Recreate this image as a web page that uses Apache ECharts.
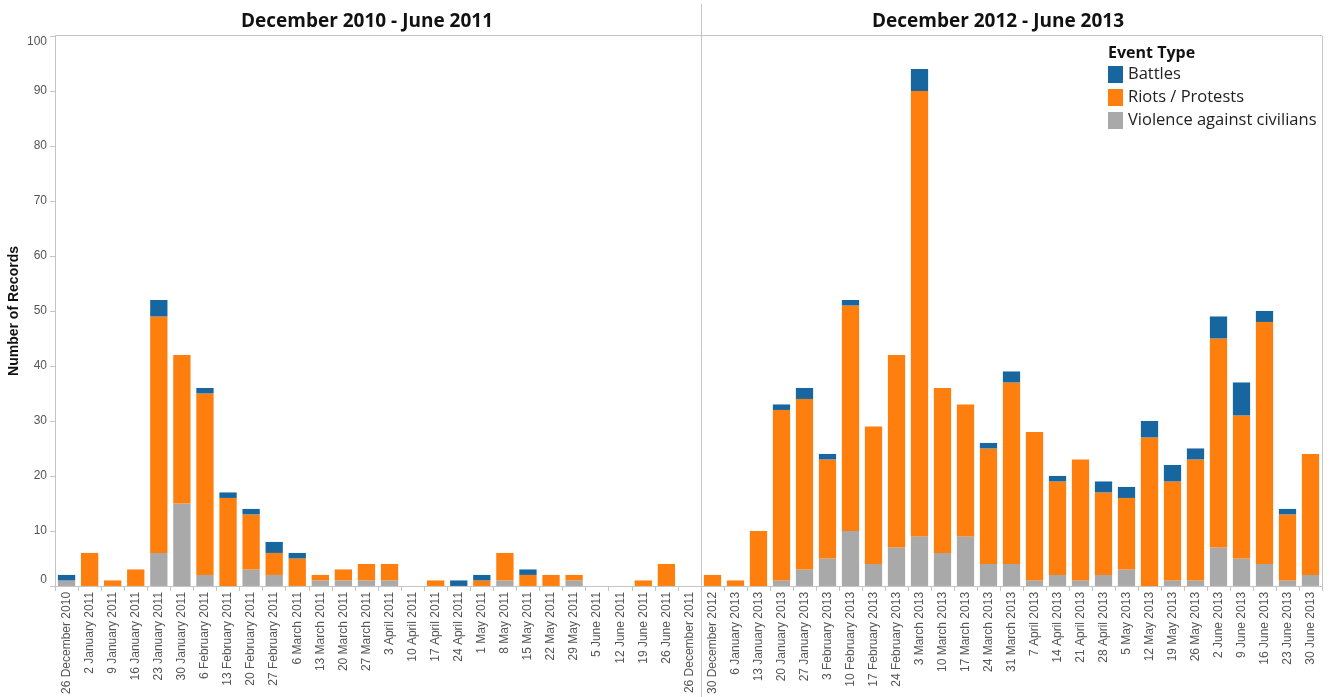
<!DOCTYPE html>
<html>
<head>
<meta charset="utf-8">
<script src="https://cdn.jsdelivr.net/npm/echarts@6/dist/echarts.min.js"></script>
<style>html,body{margin:0;padding:0;background:#fff}#c{width:1330px;height:697px}</style>
</head>
<body>
<div id="c"></div>
<script>
const datesLeft = ['26 December 2010','2 January 2011','9 January 2011','16 January 2011','23 January 2011','30 January 2011','6 February 2011','13 February 2011','20 February 2011','27 February 2011','6 March 2011','13 March 2011','20 March 2011','27 March 2011','3 April 2011','10 April 2011','17 April 2011','24 April 2011','1 May 2011','8 May 2011','15 May 2011','22 May 2011','29 May 2011','5 June 2011','12 June 2011','19 June 2011','26 June 2011','26 December 2011'];
const violenceLeft = [1,0,0,0,6,15,2,0,3,2,0,1,1,1,1,0,0,0,0,1,0,0,1,0,0,0,0,0];
const riotsLeft    = [0,6,1,3,43,27,33,16,10,4,5,1,2,3,3,0,1,0,1,5,2,2,1,0,0,1,4,0];
const battlesLeft  = [1,0,0,0,3,0,1,1,1,2,1,0,0,0,0,0,0,1,1,0,1,0,0,0,0,0,0,0];

const datesRight = ['30 December 2012','6 January 2013','13 January 2013','20 January 2013','27 January 2013','3 February 2013','10 February 2013','17 February 2013','24 February 2013','3 March 2013','10 March 2013','17 March 2013','24 March 2013','31 March 2013','7 April 2013','14 April 2013','21 April 2013','28 April 2013','5 May 2013','12 May 2013','19 May 2013','26 May 2013','2 June 2013','9 June 2013','16 June 2013','23 June 2013','30 June 2013'];
const violenceRight = [0,0,0,1,3,5,10,4,7,9,6,9,4,4,1,2,1,2,3,0,1,1,7,5,4,1,2];
const riotsRight    = [2,1,10,31,31,18,41,25,35,81,30,24,21,33,27,17,22,15,13,27,18,22,38,26,44,12,22];
const battlesRight  = [0,0,0,1,2,1,1,0,0,4,0,0,1,2,0,1,0,2,2,3,3,2,4,6,2,1,0];

const panelTitles = ['December 2010 - June 2011','December 2012 - June 2013'];
const seriesNames = ['Battles','Riots / Protests','Violence against civilians'];
const yTitle = 'Number of Records';
const legendTitle = 'Event Type';

const colors = {'Battles':'#18669f','Riots / Protests':'#ff7f0e','Violence against civilians':'#a9a9a9'};
const tickFont = 'Liberation Sans, Arial, sans-serif';
const titleFont = 'Open Sans, Lato, sans-serif';

const chart = echarts.init(document.getElementById('c'), null, {renderer:'canvas'});

function xAxisCfg(idx, data){
  return {
    type:'category', gridIndex:idx, data:data,
    axisLine:{show:true, lineStyle:{color:'#c4c4c4'}},
    axisTick:{show:true, length:5, lineStyle:{color:'#c4c4c4'}},
    axisLabel:{rotate:90, fontSize:12, color:'#555', fontFamily:tickFont, margin:6, interval:0}
  };
}
function yAxisCfg(idx, showLabels){
  return {
    type:'value', gridIndex:idx, min:0, max:100, interval:10,
    splitLine:{show:false},
    axisLine:{show:showLabels, lineStyle:{color:'#c4c4c4'}},
    axisTick:{show:showLabels, length:5, lineStyle:{color:'#c4c4c4'}},
    axisLabel:{show:showLabels, fontSize:12, color:'#555', fontFamily:tickFont, margin:8,
      verticalAlignMaxLabel:'top', verticalAlignMinLabel:'bottom'},
    name: showLabels ? yTitle : '',
    nameLocation:'middle', nameGap:34,
    nameTextStyle:{fontSize:14, fontWeight:'bold', color:'#111', fontFamily:tickFont}
  };
}
function bar(name, idx, data, stack){
  return {
    name:name, type:'bar', xAxisIndex:idx, yAxisIndex:idx, stack:stack, data:data,
    barCategoryGap:'25%', itemStyle:{color:colors[name]}, emphasis:{disabled:true}
  };
}

const option = {
  animation:false,
  grid:[
    {left:55, top:36, width:646, height:550},
    {left:701, top:36, width:621, height:550}
  ],
  xAxis:[xAxisCfg(0, datesLeft), xAxisCfg(1, datesRight)],
  yAxis:[yAxisCfg(0, true), yAxisCfg(1, false)],
  legend:{
    data:seriesNames, orient:'vertical', left:1103, top:61,
    itemWidth:15, itemHeight:17, itemGap:6, icon:'rect',
    textStyle:{fontSize:16.5, color:'#222', fontFamily:titleFont, padding:[0,0,0,0]},
    selectedMode:false
  },
  series:[
    bar('Violence against civilians', 0, violenceLeft, 'L'),
    bar('Riots / Protests', 0, riotsLeft, 'L'),
    bar('Battles', 0, battlesLeft, 'L'),
    bar('Violence against civilians', 1, violenceRight, 'R'),
    bar('Riots / Protests', 1, riotsRight, 'R'),
    bar('Battles', 1, battlesRight, 'R')
  ],
  graphic:[
    {type:'text', x:367, y:22, style:{text:panelTitles[0], font:'bold 19px '+titleFont, fill:'#111', align:'center', verticalAlign:'middle'}},
    {type:'text', x:998, y:22, style:{text:panelTitles[1], font:'bold 19px '+titleFont, fill:'#111', align:'center', verticalAlign:'middle'}},
    {type:'text', x:1108, y:53, style:{text:legendTitle, font:'bold 16px '+titleFont, fill:'#111', align:'left', verticalAlign:'middle'}},
    {type:'line', shape:{x1:55, y1:35.5, x2:1322, y2:35.5}, style:{stroke:'#c4c4c4', lineWidth:1}},
    {type:'line', shape:{x1:701.5, y1:4, x2:701.5, y2:697}, style:{stroke:'#c4c4c4', lineWidth:1}},
    {type:'line', shape:{x1:1322.5, y1:36, x2:1322.5, y2:586}, style:{stroke:'#c4c4c4', lineWidth:1}}
  ]
};
chart.setOption(option);
</script>
</body>
</html>
